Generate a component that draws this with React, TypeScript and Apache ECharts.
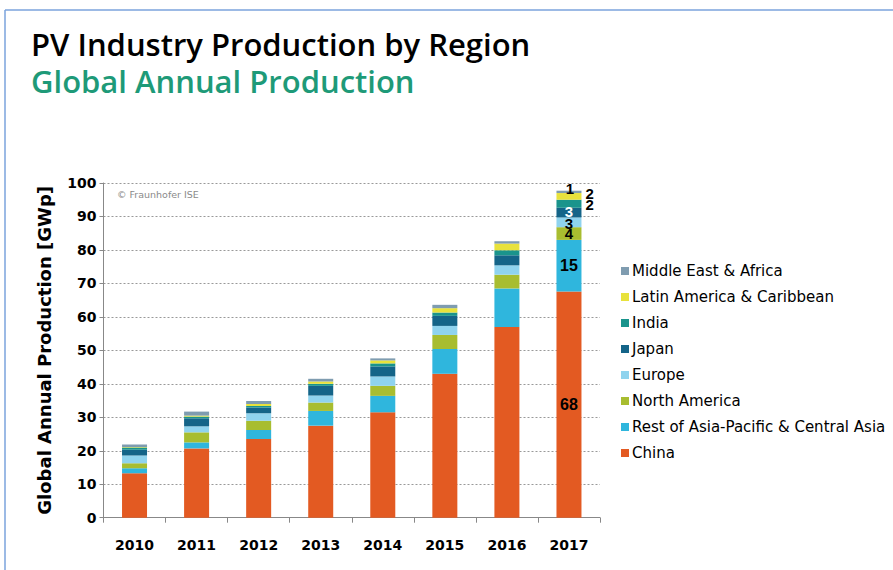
import React, { useEffect, useRef } from "react";
import * as echarts from "echarts";

const categories = ["2010", "2011", "2012", "2013", "2014", "2015", "2016", "2017"];
const china = [13.3, 20.7, 23.5, 27.5, 31.5, 43.0, 57.0, 67.6];
const restAsia = [1.5, 1.8, 2.7, 4.4, 4.9, 7.4, 11.5, 15.4];
const northAmerica = [1.5, 3.0, 2.8, 2.5, 3.0, 4.2, 4.1, 3.8];
const europe = [2.3, 1.8, 2.2, 2.1, 2.8, 2.7, 2.8, 2.9];
const japan = [1.7, 2.4, 1.7, 2.9, 3.0, 3.0, 3.0, 2.9];
const india = [0.7, 0.5, 0.5, 0.6, 0.9, 1.0, 1.5, 2.4];
const latinAmerica = [0.1, 0.3, 0.6, 0.7, 0.9, 1.3, 2.0, 2.0];
const middleEast = [0.8, 1.2, 0.9, 0.8, 0.6, 1.0, 0.7, 0.7];

const seriesNames = [
  "China",
  "Rest of Asia-Pacific & Central Asia",
  "North America",
  "Europe",
  "Japan",
  "India",
  "Latin America & Caribbean",
  "Middle East & Africa",
];
const seriesValues = [china, restAsia, northAmerica, europe, japan, india, latinAmerica, middleEast];
const seriesColors = ["#E35A22", "#2FB6DD", "#A8BD30", "#8FD3EE", "#146488", "#1A948C", "#E8E23C", "#7F9CB0"];

const FONT = "'DejaVu Sans', sans-serif";
const LABEL_FONT = "'Liberation Sans', Arial, sans-serif";

const labelStyles: any[] = [
  { position: "inside", color: "#000", fontSize: 16 },
  { position: "inside", color: "#000", fontSize: 16 },
  { position: "inside", color: "#000", fontSize: 15, lineHeight: 10 },
  { position: "inside", color: "#000", fontSize: 15, lineHeight: 9, offset: [0, 1] },
  { position: "inside", color: "#fff", fontSize: 15, lineHeight: 9, offset: [0, -1] },
  { position: "right", distance: 4, color: "#000", fontSize: 15, lineHeight: 10, offset: [0, 1] },
  { position: "right", distance: 4, color: "#000", fontSize: 15, lineHeight: 10, offset: [0, -3] },
  { position: "top", distance: 0, color: "#000", fontSize: 15, lineHeight: 10, offset: [1, 3] },
];

export default function App() {
  const ref = useRef<HTMLDivElement>(null);
  useEffect(() => {
    if (!ref.current) return;
    const chart = echarts.init(ref.current, null, { renderer: "svg" });
    const lastIdx = categories.length - 1;
    const series = seriesNames.map((name, si) => ({
      name,
      type: "bar",
      stack: "total",
      barWidth: 25,
      itemStyle: { color: seriesColors[si] },
      data: seriesValues[si].map((v, i) =>
        i === lastIdx
          ? {
              value: v,
              label: {
                show: true,
                formatter: (p: any) => String(Math.round(p.value)),
                fontFamily: LABEL_FONT,
                fontWeight: "bold",
                ...labelStyles[si],
              },
            }
          : v
      ),
    }));
    chart.setOption({
      animation: false,
      backgroundColor: "#fff",
      title: [
        {
          text: "PV Industry Production by Region",
          left: 26,
          top: 23,
          textStyle: { fontFamily: "'Open Sans', sans-serif", fontWeight: 600, fontSize: 31, color: "#000" },
        },
        {
          text: "Global Annual Production",
          left: 26,
          top: 60,
          textStyle: { fontFamily: "'Open Sans', sans-serif", fontWeight: 600, fontSize: 31, color: "#1E9A78" },
        },
      ],
      graphic: [
        { type: "line", shape: { x1: 5, y1: 10, x2: 893, y2: 10 }, style: { stroke: "#7BA3DC", lineWidth: 1.5 } },
        { type: "line", shape: { x1: 5, y1: 10, x2: 5, y2: 570 }, style: { stroke: "#7BA3DC", lineWidth: 1.5 } },
        {
          type: "text",
          left: 117,
          top: 189,
          style: { text: "© Fraunhofer ISE", fontSize: 9.5, fontFamily: FONT, fill: "#8a8a8a" },
        },
      ],
      legend: {
        orient: "vertical",
        left: 616,
        top: 258,
        icon: "rect",
        itemWidth: 8,
        itemHeight: 8,
        itemGap: 10,
        data: [...seriesNames].reverse(),
        textStyle: { fontFamily: FONT, fontSize: 15, color: "#000", lineHeight: 16, padding: [0, 0, 0, -2] },
      },
      grid: { left: 103.5, right: 293, top: 183, bottom: 52.3 },
      xAxis: {
        type: "category",
        data: categories,
        axisLine: { lineStyle: { color: "#888" } },
        axisTick: { show: true, lineStyle: { color: "#888" }, length: 5 },
        axisLabel: { fontFamily: FONT, fontWeight: "bold", fontSize: 14, color: "#000", margin: 20 },
      },
      yAxis: {
        type: "value",
        min: 0,
        max: 100,
        interval: 10,
        name: "Global Annual Production [GWp]",
        nameLocation: "middle",
        nameRotate: 90,
        nameGap: 50,
        nameTextStyle: { fontFamily: FONT, fontWeight: "bold", fontSize: 18, color: "#000" },
        axisLine: { show: true, lineStyle: { color: "#888" } },
        axisTick: { show: true, lineStyle: { color: "#888" }, length: 4 },
        axisLabel: { fontFamily: FONT, fontWeight: "bold", fontSize: 14, color: "#000", margin: 7 },
        splitLine: { lineStyle: { color: "#999", type: [2, 2], width: 1 } },
      },
      series,
    });
    return () => chart.dispose();
  }, []);
  return <div ref={ref} style={{ width: 893, height: 570, position: "absolute", left: 0, top: 0 }} />;
}
